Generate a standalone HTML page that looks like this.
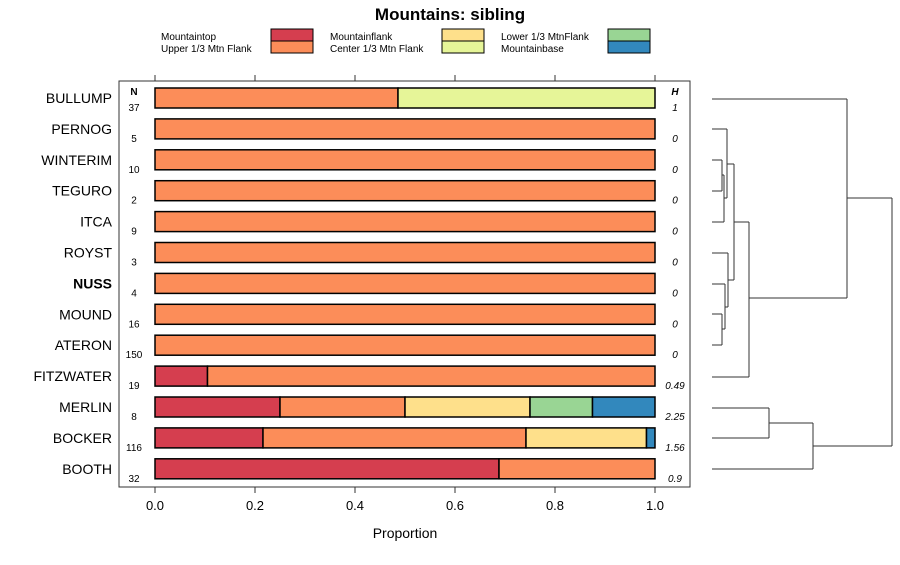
<!DOCTYPE html>
<html><head><meta charset="utf-8"><style>
body{margin:0;background:#fff;width:900px;height:560px;overflow:hidden}
svg text{font-family:"Liberation Sans",sans-serif}
</style></head><body>
<svg id="c" width="900" height="560">
<text x="450" y="20" text-anchor="middle" font-size="17" font-weight="bold">Mountains: sibling</text>
<g id="legend"></g>
<rect x="119" y="81" width="571" height="406" fill="none" stroke="#333"/>
<g id="bars"></g><g id="axis"></g><g id="dendro"></g>
<text x="134" y="95" font-size="10" font-weight="bold" text-anchor="middle">N</text>
<text x="675" y="95" font-size="10" font-weight="bold" font-style="italic" text-anchor="middle">H</text>
<text x="405" y="538" font-size="14" text-anchor="middle">Proportion</text>
</svg>
<script>
const categories=["BULLUMP","PERNOG","WINTERIM","TEGURO","ITCA","ROYST","NUSS","MOUND","ATERON","FITZWATER","MERLIN","BOCKER","BOOTH"];
const nValues=[37,5,10,2,9,3,4,16,150,19,8,116,32];
const hValues=["1","0","0","0","0","0","0","0","0","0.49","2.25","1.56","0.9"];
const seriesNames=["Mountaintop","Upper 1/3 Mtn Flank","Mountainflank","Center 1/3 Mtn Flank","Lower 1/3 MtnFlank","Mountainbase"];
const colors=["#D53E4F","#FC8D59","#FEE08B","#E6F598","#99D594","#3288BD"];
const sTop=[0,0,0,0,0,0,0,0,0,0.105,0.25,0.216,0.688];
const sUpper=[0.486,1,1,1,1,1,1,1,1,0.895,0.25,0.526,0.312];
const sFlank=[0,0,0,0,0,0,0,0,0,0,0.25,0.241,0];
const sCenter=[0.514,0,0,0,0,0,0,0,0,0,0,0,0];
const sLower=[0,0,0,0,0,0,0,0,0,0,0.125,0,0];
const sBase=[0,0,0,0,0,0,0,0,0,0,0.125,0.017,0];
const series=[sTop,sUpper,sFlank,sCenter,sLower,sBase];
const ticks=[0,0.2,0.4,0.6,0.8,1.0];
const tickLabels=["0.0","0.2","0.4","0.6","0.8","1.0"];
const NS="http://www.w3.org/2000/svg";
const X=v=>155+v*500, Y=i=>98+i*30.9;
function mk(p,t,a,txt){const e=document.createElementNS(NS,t);for(const k in a)e.setAttribute(k,a[k]);if(txt!==undefined)e.textContent=txt;p.appendChild(e);return e;}
const bars=document.getElementById('bars');
categories.forEach((c,i)=>{
 const y=Y(i);
 const l=mk(bars,'text',{x:112,y:y+5,'font-size':14,'text-anchor':'end','font-weight':c==='NUSS'?'bold':'normal'},c);
 
 
 const n=mk(bars,'text',{x:134,y:y+13,'font-size':10,'text-anchor':'middle'},nValues[i]);
 
 
 const h=mk(bars,'text',{x:675,y:y+13,'font-size':10,'font-style':'italic','text-anchor':'middle'},hValues[i]);
 
 
 let cum=0;
 series.forEach((s,k)=>{const v=s[i];if(v<=0)return;
  const r=mk(bars,'rect',{x:X(cum),y:y-10,width:X(cum+v)-X(cum),height:20,fill:colors[k],stroke:'#000','stroke-width':1.5});
  
  
  cum+=v;});
});
const ax=document.getElementById('axis');
ticks.forEach((t,i)=>{
 mk(ax,'line',{x1:X(t),x2:X(t),y1:487,y2:493,stroke:'#333'});
 mk(ax,'line',{x1:X(t),x2:X(t),y1:75,y2:81,stroke:'#333'});
 const tl=mk(ax,'text',{x:X(t),y:510,'font-size':13,'text-anchor':'middle'},tickLabels[i]);
 
 
});
const lg=document.getElementById('legend');
const lpos=[[161,37,271],[161,49,271],[330,37,442],[330,49,442],[501,37,608],[501,49,608]];
seriesNames.forEach((s,k)=>{const p=lpos[k];
 const t=mk(lg,'text',{x:p[0],y:p[1]+3,'font-size':10},s);
 
 
 mk(lg,'rect',{x:p[2],y:p[1]-8,width:42,height:12,fill:colors[k],stroke:'#000'});
});
const d=document.getElementById('dendro');
const segs=[[712,99,847,99],[847,99,847,298],[712,129,727,129],[727,129,727,198],[712,160,722,160],[712,191,722,191],[722,160,722,191],[722,175,724,175],[712,222,724,222],[724,175,724,222],[724,198,727,198],[727,164,734,164],
[712,253,728,253],[712,284,725,284],[712,314,722,314],[712,345,722,345],[722,314,722,345],[722,329,725,329],[725,284,725,329],[725,307,728,307],[728,253,728,307],[728,280,734,280],[734,164,734,280],[734,222,749,222],[712,377,749,377],[749,222,749,377],[749,298,847,298],[847,198,892,198],
[712,408,769,408],[712,438,769,438],[769,408,769,438],[769,423,813,423],[712,469,813,469],[813,423,813,469],[813,446,892,446],[892,198,892,446]];
segs.forEach(s=>mk(d,'line',{x1:s[0],y1:s[1],x2:s[2],y2:s[3],stroke:'#333','stroke-width':1}));
</script>
</body></html>
